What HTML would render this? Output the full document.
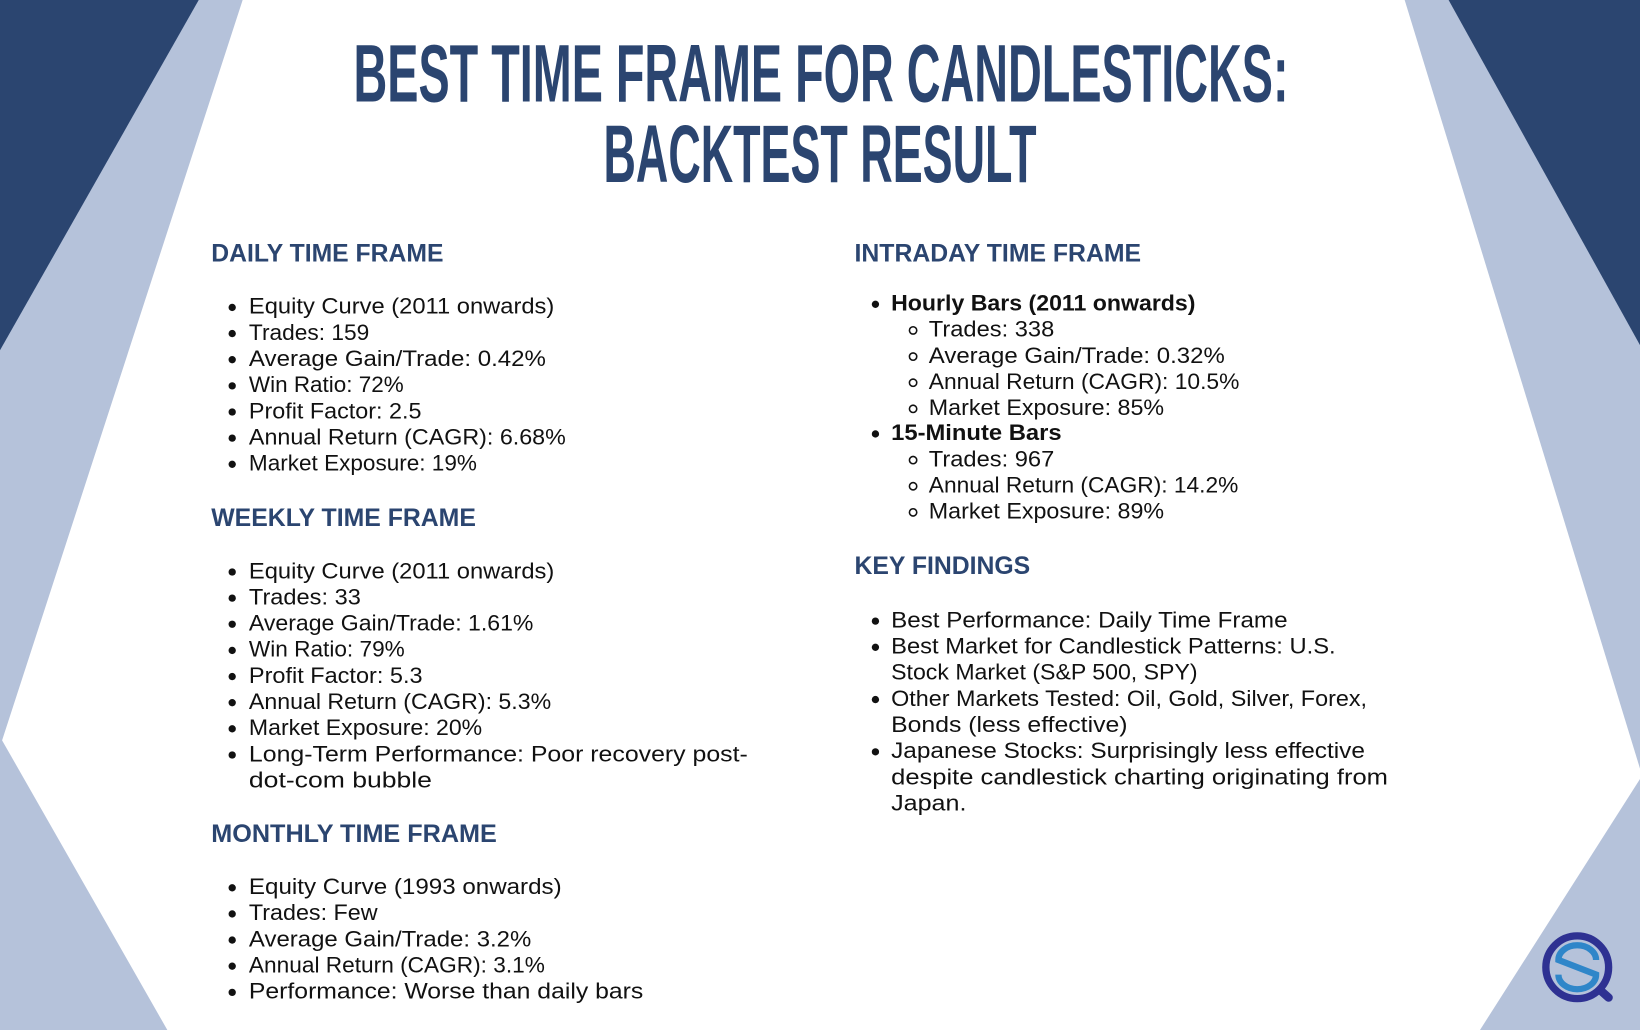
<!DOCTYPE html>
<html><head><meta charset="utf-8"><style>
html,body{margin:0;padding:0;background:#fff;width:1640px;height:1030px;overflow:hidden}
svg{display:block}
.h{font-family:"Liberation Sans",sans-serif;font-weight:bold;fill:#2b4570;font-size:24px}
.t{font-family:"Liberation Sans",sans-serif;fill:#111;font-size:21px}
.b{font-family:"Liberation Sans",sans-serif;fill:#111;font-size:21px;font-weight:bold}
.ti{font-family:"Liberation Sans Narrow","Liberation Sans",sans-serif;font-weight:bold;fill:#2b4570;font-size:78px}
</style></head><body>
<svg width="1640" height="1030" viewBox="0 0 1568 985" preserveAspectRatio="none" xmlns="http://www.w3.org/2000/svg">
<g>
<polygon points="0,0 232,0 2,708 160,985 0,985" fill="#b5c2da"/>
<polygon points="0,0 190,0 0,335" fill="#2b4570"/>
<polygon points="1343,0 1568,0 1568,735" fill="#b5c2da"/>
<polygon points="1568,745 1568,985 1415,985" fill="#b5c2da"/>
<polygon points="1385,0 1568,0 1568,330" fill="#2b4570"/>
</g>
<g>
<text class="ti" x="338" y="97" textLength="894" lengthAdjust="spacingAndGlyphs">BEST TIME FRAME FOR CANDLESTICKS:</text>
<text class="ti" x="577" y="174" textLength="414" lengthAdjust="spacingAndGlyphs">BACKTEST RESULT</text>
</g>
<g>
<text class="h" x="202" y="250" textLength="222" lengthAdjust="spacingAndGlyphs">DAILY TIME FRAME</text>
<g fill="#111"><circle cx="222" cy="294" r="3.5"/><circle cx="222" cy="319" r="3.5"/><circle cx="222" cy="344" r="3.5"/><circle cx="222" cy="369" r="3.5"/><circle cx="222" cy="394" r="3.5"/><circle cx="222" cy="419" r="3.5"/><circle cx="222" cy="444" r="3.5"/></g>
<text class="t" x="238" y="300" textLength="292" lengthAdjust="spacingAndGlyphs">Equity Curve (2011 onwards)</text>
<text class="t" x="238" y="325" textLength="115" lengthAdjust="spacingAndGlyphs">Trades: 159</text>
<text class="t" x="238" y="350" textLength="284" lengthAdjust="spacingAndGlyphs">Average Gain/Trade: 0.42%</text>
<text class="t" x="238" y="375" textLength="148" lengthAdjust="spacingAndGlyphs">Win Ratio: 72%</text>
<text class="t" x="238" y="400" textLength="165" lengthAdjust="spacingAndGlyphs">Profit Factor: 2.5</text>
<text class="t" x="238" y="425" textLength="303" lengthAdjust="spacingAndGlyphs">Annual Return (CAGR): 6.68%</text>
<text class="t" x="238" y="450" textLength="218" lengthAdjust="spacingAndGlyphs">Market Exposure: 19%</text>
</g>
<g>
<text class="h" x="202" y="503" textLength="253" lengthAdjust="spacingAndGlyphs">WEEKLY TIME FRAME</text>
<g fill="#111"><circle cx="222" cy="547" r="3.5"/><circle cx="222" cy="572" r="3.5"/><circle cx="222" cy="597" r="3.5"/><circle cx="222" cy="622" r="3.5"/><circle cx="222" cy="647" r="3.5"/><circle cx="222" cy="672" r="3.5"/><circle cx="222" cy="697" r="3.5"/><circle cx="222" cy="722" r="3.5"/></g>
<text class="t" x="238" y="553" textLength="292" lengthAdjust="spacingAndGlyphs">Equity Curve (2011 onwards)</text>
<text class="t" x="238" y="578" textLength="107" lengthAdjust="spacingAndGlyphs">Trades: 33</text>
<text class="t" x="238" y="603" textLength="272" lengthAdjust="spacingAndGlyphs">Average Gain/Trade: 1.61%</text>
<text class="t" x="238" y="628" textLength="149" lengthAdjust="spacingAndGlyphs">Win Ratio: 79%</text>
<text class="t" x="238" y="653" textLength="166" lengthAdjust="spacingAndGlyphs">Profit Factor: 5.3</text>
<text class="t" x="238" y="678" textLength="289" lengthAdjust="spacingAndGlyphs">Annual Return (CAGR): 5.3%</text>
<text class="t" x="238" y="703" textLength="223" lengthAdjust="spacingAndGlyphs">Market Exposure: 20%</text>
<text class="t" x="238" y="728" textLength="477" lengthAdjust="spacingAndGlyphs">Long-Term Performance: Poor recovery post-</text>
<text class="t" x="238" y="753" textLength="175" lengthAdjust="spacingAndGlyphs">dot-com bubble</text>
</g>
<g>
<text class="h" x="202" y="805" textLength="273" lengthAdjust="spacingAndGlyphs">MONTHLY TIME FRAME</text>
<g fill="#111"><circle cx="222" cy="849" r="3.5"/><circle cx="222" cy="874" r="3.5"/><circle cx="222" cy="899" r="3.5"/><circle cx="222" cy="924" r="3.5"/><circle cx="222" cy="949" r="3.5"/></g>
<text class="t" x="238" y="855" textLength="299" lengthAdjust="spacingAndGlyphs">Equity Curve (1993 onwards)</text>
<text class="t" x="238" y="880" textLength="123" lengthAdjust="spacingAndGlyphs">Trades: Few</text>
<text class="t" x="238" y="905" textLength="270" lengthAdjust="spacingAndGlyphs">Average Gain/Trade: 3.2%</text>
<text class="t" x="238" y="930" textLength="283" lengthAdjust="spacingAndGlyphs">Annual Return (CAGR): 3.1%</text>
<text class="t" x="238" y="955" textLength="377" lengthAdjust="spacingAndGlyphs">Performance: Worse than daily bars</text>
</g>
<g>
<text class="h" x="817" y="250" textLength="274" lengthAdjust="spacingAndGlyphs">INTRADAY TIME FRAME</text>
<g fill="#111"><circle cx="837" cy="291" r="3.5"/><circle cx="837" cy="415" r="3.5"/></g>
<g fill="none" stroke="#111" stroke-width="1.5"><circle cx="873" cy="316" r="3.5"/><circle cx="873" cy="341" r="3.5"/><circle cx="873" cy="366" r="3.5"/><circle cx="873" cy="391" r="3.5"/><circle cx="873" cy="440" r="3.5"/><circle cx="873" cy="465" r="3.5"/><circle cx="873" cy="490" r="3.5"/></g>
<text class="b" x="852" y="297" textLength="291" lengthAdjust="spacingAndGlyphs">Hourly Bars (2011 onwards)</text>
<text class="t" x="888" y="322" textLength="120" lengthAdjust="spacingAndGlyphs">Trades: 338</text>
<text class="t" x="888" y="347" textLength="283" lengthAdjust="spacingAndGlyphs">Average Gain/Trade: 0.32%</text>
<text class="t" x="888" y="372" textLength="297" lengthAdjust="spacingAndGlyphs">Annual Return (CAGR): 10.5%</text>
<text class="t" x="888" y="397" textLength="225" lengthAdjust="spacingAndGlyphs">Market Exposure: 85%</text>
<text class="b" x="852" y="421" textLength="163" lengthAdjust="spacingAndGlyphs">15-Minute Bars</text>
<text class="t" x="888" y="446" textLength="120" lengthAdjust="spacingAndGlyphs">Trades: 967</text>
<text class="t" x="888" y="471" textLength="296" lengthAdjust="spacingAndGlyphs">Annual Return (CAGR): 14.2%</text>
<text class="t" x="888" y="496" textLength="225" lengthAdjust="spacingAndGlyphs">Market Exposure: 89%</text>
</g>
<g>
<text class="h" x="817" y="549" textLength="168" lengthAdjust="spacingAndGlyphs">KEY FINDINGS</text>
<g fill="#111"><circle cx="837" cy="594" r="3.5"/><circle cx="837" cy="619" r="3.5"/><circle cx="837" cy="669" r="3.5"/><circle cx="837" cy="719" r="3.5"/></g>
<text class="t" x="852" y="600" textLength="379" lengthAdjust="spacingAndGlyphs">Best Performance: Daily Time Frame</text>
<text class="t" x="852" y="625" textLength="425" lengthAdjust="spacingAndGlyphs">Best Market for Candlestick Patterns: U.S.</text>
<text class="t" x="852" y="650" textLength="293" lengthAdjust="spacingAndGlyphs">Stock Market (S&amp;P 500, SPY)</text>
<text class="t" x="852" y="675" textLength="455" lengthAdjust="spacingAndGlyphs">Other Markets Tested: Oil, Gold, Silver, Forex,</text>
<text class="t" x="852" y="700" textLength="226" lengthAdjust="spacingAndGlyphs">Bonds (less effective)</text>
<text class="t" x="852" y="725" textLength="453" lengthAdjust="spacingAndGlyphs">Japanese Stocks: Surprisingly less effective</text>
<text class="t" x="852" y="750" textLength="475" lengthAdjust="spacingAndGlyphs">despite candlestick charting originating from</text>
<text class="t" x="852" y="775" textLength="72" lengthAdjust="spacingAndGlyphs">Japan.</text>
</g>
<g>
<line x1="1520" y1="938" x2="1538" y2="954" stroke="#2e3192" stroke-width="8" stroke-linecap="round"/>
<circle cx="1508" cy="925" r="30" fill="#b5c2da" stroke="#2e3192" stroke-width="7"/>
<path d="M1526,918 A18,14 0 0 0 1490,918 L1526,932 A18,14 0 0 1 1490,932" fill="none" stroke="#2f86c9" stroke-width="6"/>
</g>
</svg>
</body></html>
